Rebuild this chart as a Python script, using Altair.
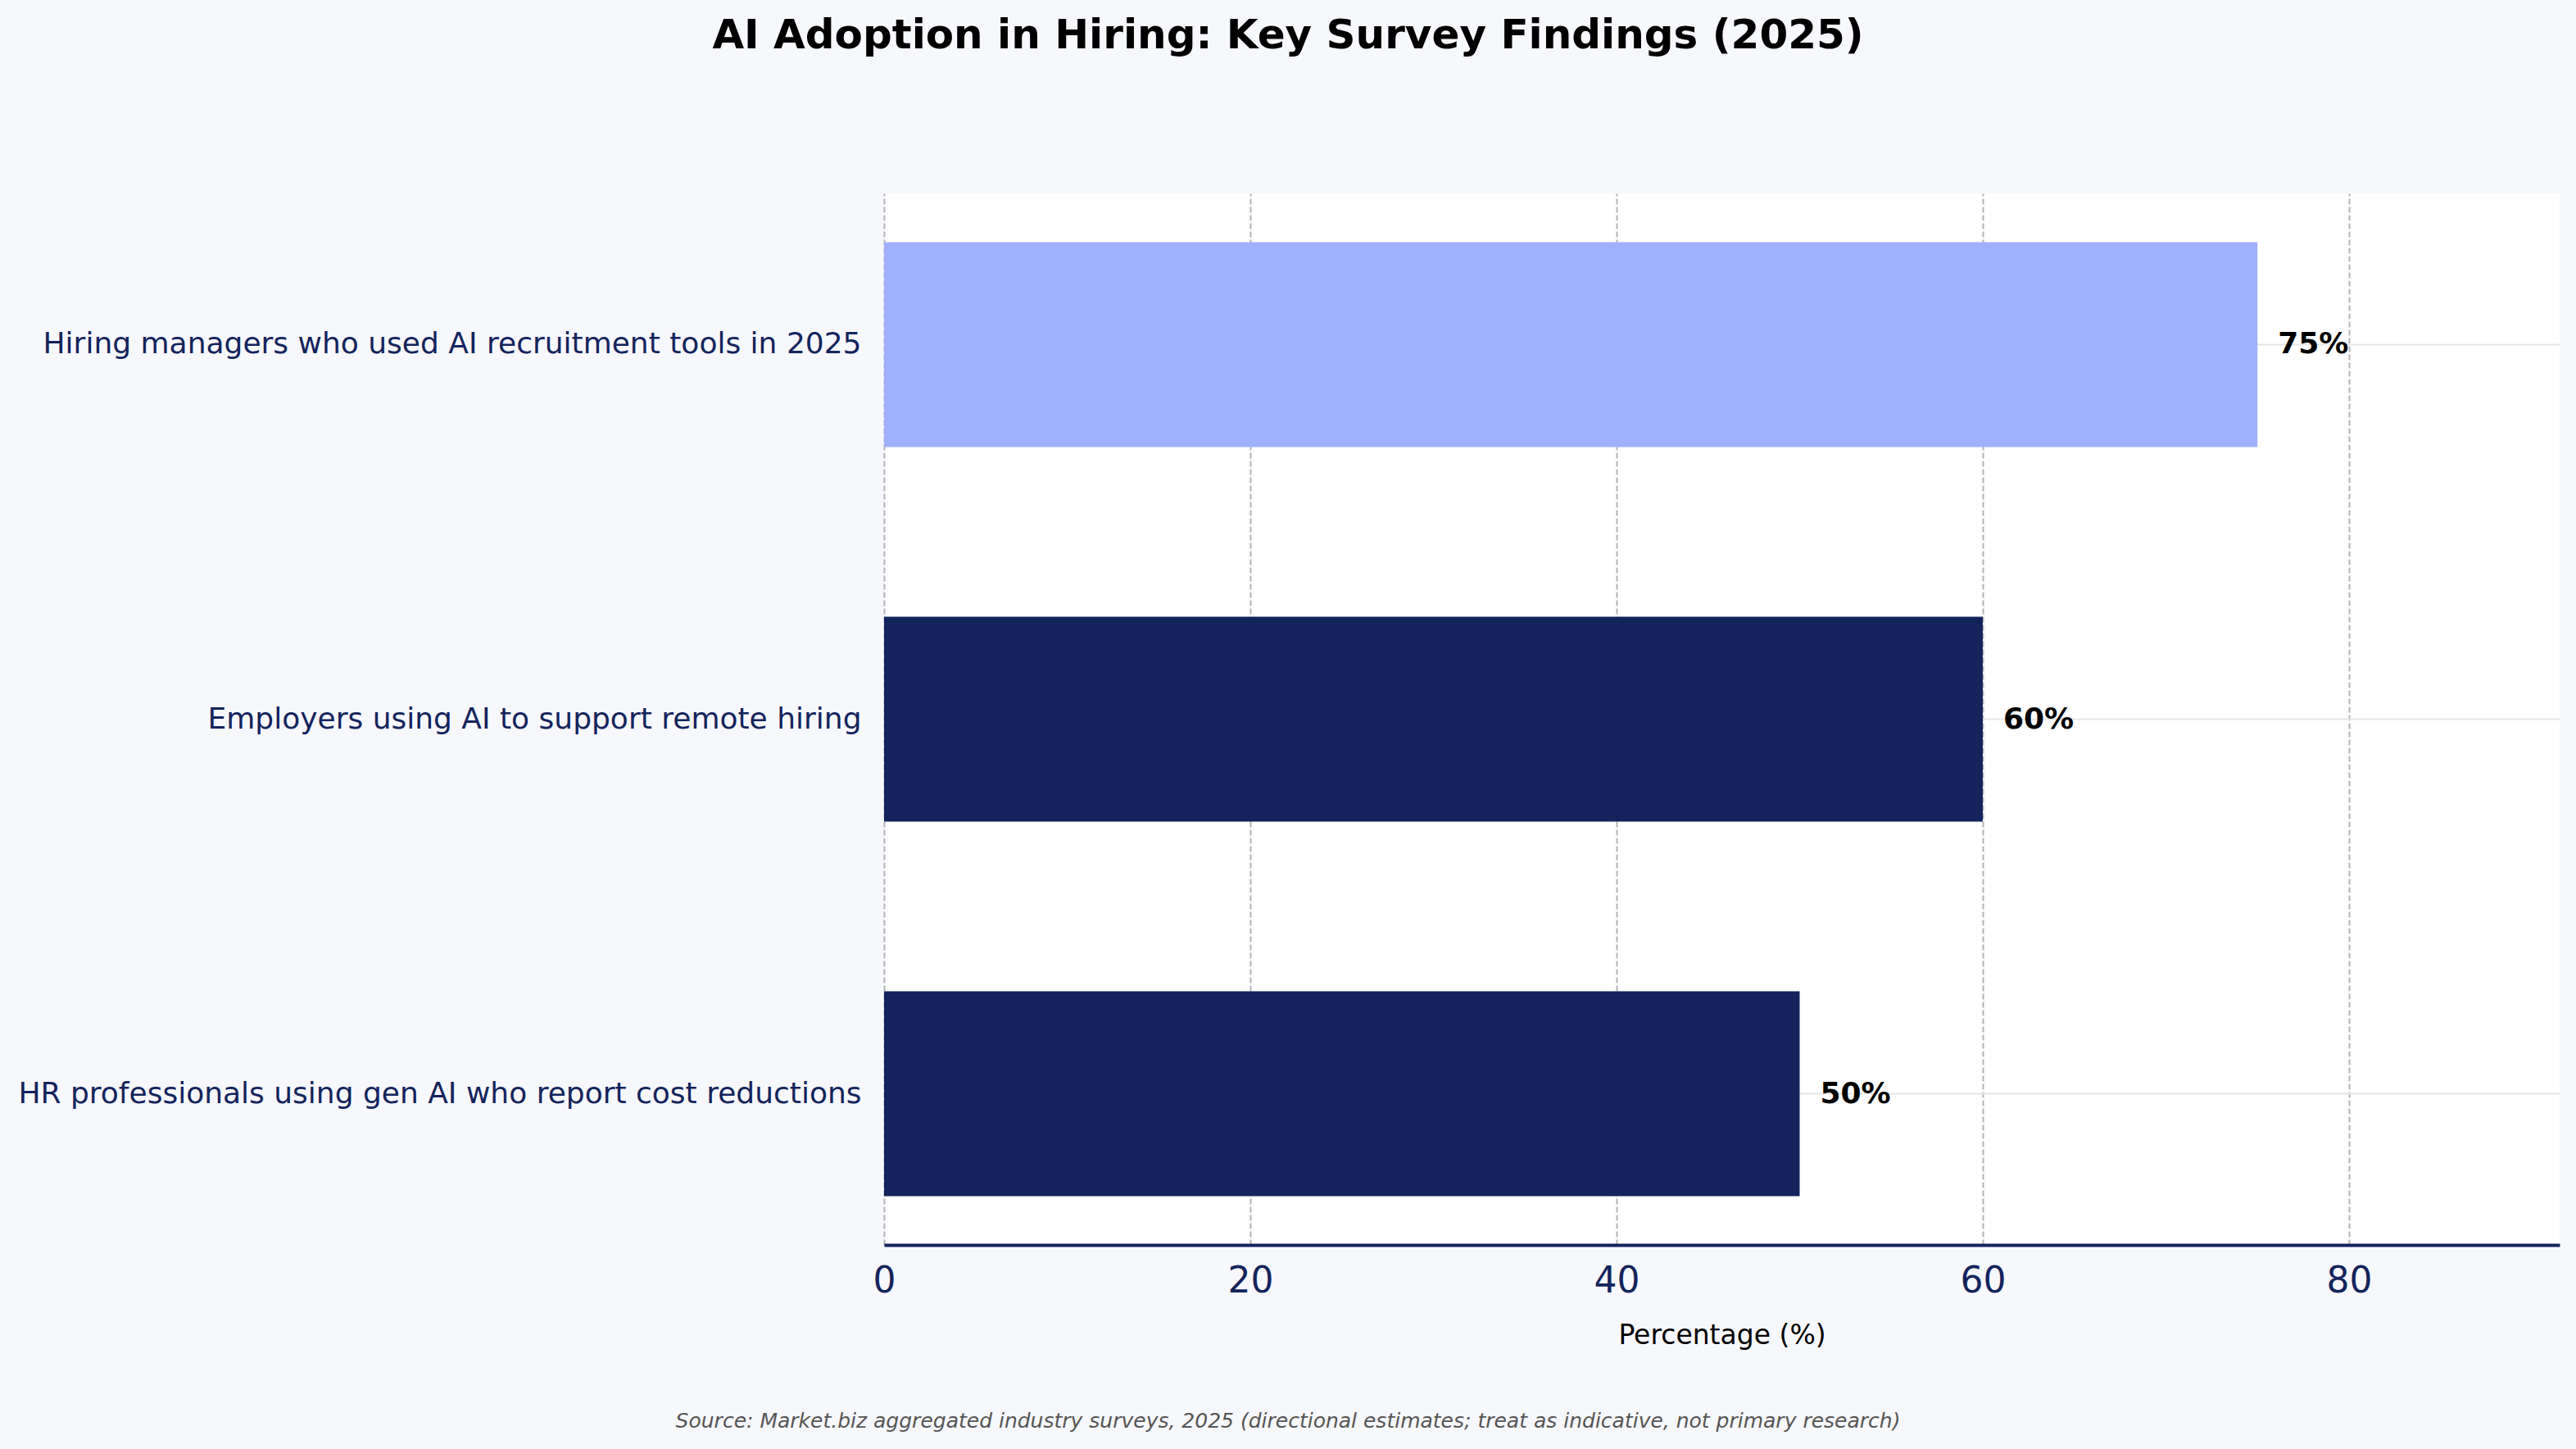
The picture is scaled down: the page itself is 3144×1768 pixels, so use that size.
import altair as alt
import pandas as pd

# Survey findings (percent of respondents)
categories = [
    "Hiring managers who used AI recruitment tools in 2025",
    "Employers using AI to support remote hiring",
    "HR professionals using gen AI who report cost reductions",
]
values = [75, 60, 50]
highlight = ["top", "other", "other"]
x_ticks = [0, 20, 40, 60, 80]

TITLE = "AI Adoption in Hiring: Key Survey Findings (2025)"
SOURCE = ("Source: Market.biz aggregated industry surveys, 2025 "
          "(directional estimates; treat as indicative, not primary research)")

NAVY = "#13245c"
LIGHT = "#9fb0fd"
BG = "#f7f8fc"
FONT = "DejaVu Sans"

df = pd.DataFrame({
    "category": categories,
    "value": values,
    "group": highlight,
    "label": [f"{v}%" for v in values],
})

W, H = 2045, 1283

y_enc = alt.Y(
    "category:N",
    sort=categories,
    scale=alt.Scale(paddingInner=0.453, paddingOuter=0.13),
    axis=alt.Axis(
        title=None,
        domain=False,
        ticks=False,
        labelFontSize=36,
        labelColor=NAVY,
        labelFont=FONT,
        labelPadding=28,
        labelLimit=2000,
        grid=True,
        gridColor="#e6e6e6",
        gridWidth=2,
        bandPosition=0.5,
    ),
)

x_enc = alt.X(
    "value:Q",
    scale=alt.Scale(domain=[0, 91.5], nice=False),
    axis=alt.Axis(
        title="Percentage (%)",
        titleFontSize=33,
        titleFont=FONT,
        titleFontWeight="normal",
        titleColor="#000000",
        titlePadding=28,
        values=x_ticks,
        labelFontSize=44,
        labelFont=FONT,
        labelColor=NAVY,
        labelPadding=22,
        labelFlush=False,
        ticks=False,
        domainColor=NAVY,
        domainWidth=4,
        grid=True,
        gridColor="#b4b4b4",
        gridWidth=2,
        gridDash=[7, 3],
    ),
)

bars = alt.Chart(df).mark_bar().encode(
    x=x_enc,
    y=y_enc,
    color=alt.Color(
        "group:N",
        scale=alt.Scale(domain=["top", "other"], range=[LIGHT, NAVY]),
        legend=None,
    ),
)

labels = alt.Chart(df).mark_text(
    align="left",
    baseline="middle",
    dx=25,
    fontSize=36,
    fontWeight="bold",
    font=FONT,
    color="#000000",
).encode(
    x="value:Q",
    y=alt.Y("category:N", sort=categories),
    text="label:N",
)

source = alt.Chart(alt.Data(values=[{"t": SOURCE}])).mark_text(
    align="center",
    baseline="middle",
    fontSize=25,
    fontStyle="italic",
    font=FONT,
    color="#555555",
    clip=False,
).encode(
    x=alt.value(1572 - 1079),
    y=alt.value(1734 - 236),
    text="t:N",
)

chart = alt.layer(bars, labels, source).properties(
    width=W,
    height=H,
    title=alt.Title(
        TITLE,
        fontSize=50,
        fontWeight="bold",
        font=FONT,
        color="#000000",
        anchor="middle",
        frame="group",
        dx=1572 - (1079 + W / 2),
        baseline="middle",
        offset=142,
    ),
    padding={"left": 1079, "top": 236, "right": 20, "bottom": 249},
    autosize=alt.AutoSizeParams(type="none"),
    background=BG,
).configure_view(
    fill="#ffffff",
    stroke=None,
)

chart.save("out.html", embed_options={"renderer": "svg", "actions": False})
